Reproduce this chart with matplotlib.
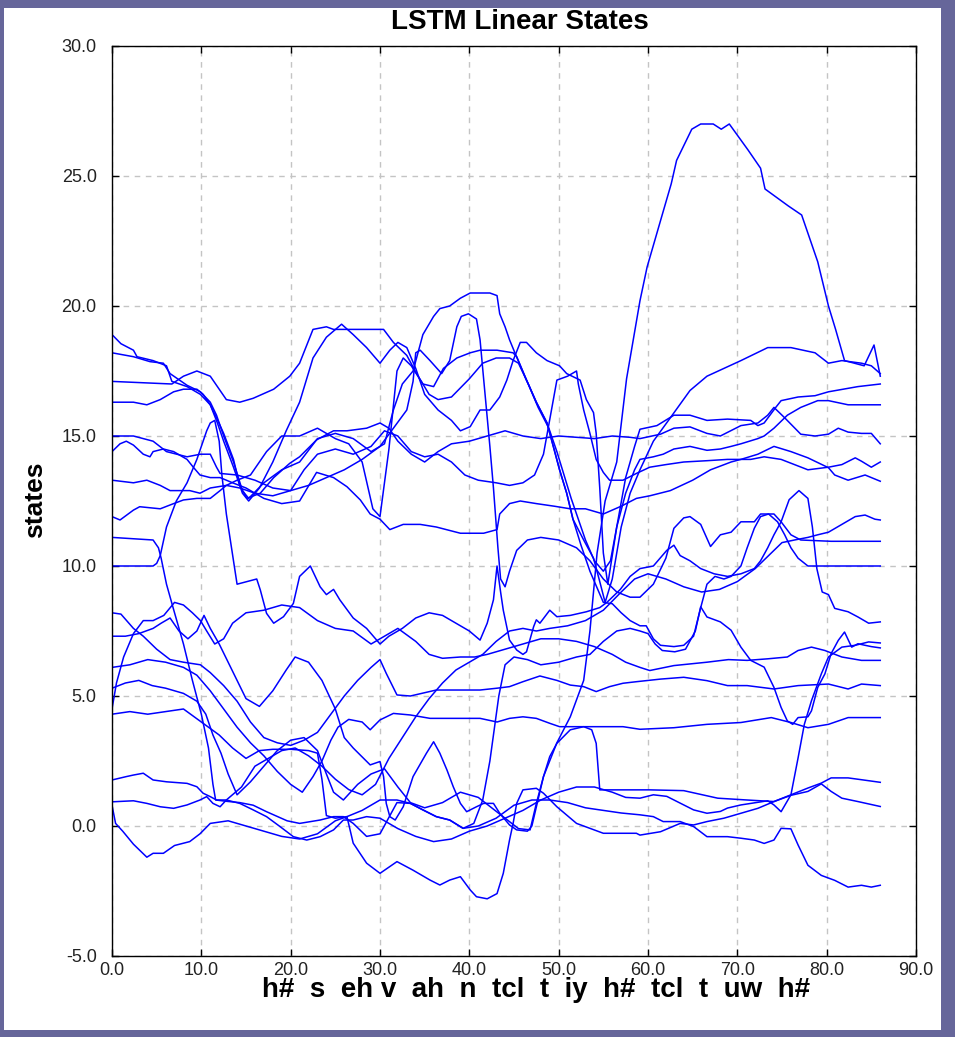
import matplotlib.pyplot as plt
from matplotlib.patches import Rectangle

# LSTM state traces, as (time step, state value)
s01 = [(0, 18.9), (1, 18.55), (2.4, 18.3), (2.8, 18.05), (4.6, 17.9), (6.1, 17.7), (6.7, 17.1), (8.4, 16.9),
       (9.9, 16.6), (11, 16.2), (11.7, 15.7), (12.5, 15.1), (13.6, 14.1), (14.3, 13.1), (15.1, 12.6), (16.6, 12.8),
       (18.1, 13.4), (19.9, 13.95), (21, 14.2), (22.9, 14.85), (24.8, 15.2), (26.3, 15.2), (28.5, 15.3), (30, 15.5),
       (31, 15.3), (32, 14.8), (33.5, 14.3), (35, 14.0), (36.5, 14.4), (38, 14.7), (40, 14.8), (42, 15.0), (44, 15.2),
       (46, 15.0), (48, 14.9), (50, 15.0), (52, 14.95), (54, 14.9), (56, 15.0), (58, 14.95), (59.1, 14.9),
       (61.4, 15.07), (62.9, 15.3), (64.7, 15.35), (66.6, 15.1), (68.1, 15.0), (70.4, 15.4), (72.3, 15.5),
       (73.4, 15.8), (74.1, 16.1), (75.3, 15.7), (77.1, 15.07), (78.7, 15.0), (80.2, 15.07), (81.3, 15.3),
       (82.4, 15.15), (83.9, 15.1), (85, 15.1), (86, 14.7)]
s02 = [(0, 18.2), (2.4, 18.05), (4.25, 17.86), (5.75, 17.8), (6.5, 17.4), (8.4, 16.95), (9.9, 16.7), (11, 16.3),
       (11.7, 15.8), (12.5, 15.0), (13.6, 14.0), (14.6, 12.9), (15.3, 12.6), (17, 13.2), (19, 13.7), (21, 14.0),
       (23, 14.9), (25, 15.1), (27, 14.9), (29, 14.4), (30.5, 14.7), (31.5, 16.0), (32.5, 17.0), (33.7, 17.5),
       (34.8, 18.9), (36, 19.6), (36.7, 19.9), (37.8, 20.0), (39, 20.3), (40.1, 20.5), (42.3, 20.5), (43.1, 20.4),
       (43.4, 19.7), (44, 19.2), (44.5, 18.7), (45.1, 18.2), (46.4, 17.15), (47.5, 16.3), (48.7, 15.5),
       (49.4, 14.6), (50.1, 13.7), (50.9, 12.8), (51.6, 11.8), (52.8, 11.0), (53.9, 10.3), (54.6, 9.4),
       (55.2, 8.6), (56, 9.5), (57, 11.5), (58, 12.8), (59.1, 13.7), (60.6, 14.8), (62.5, 15.7), (64.7, 16.75),
       (66.6, 17.3), (70.4, 17.9), (73.4, 18.4), (76, 18.4), (78.7, 18.2), (80.2, 17.8), (81.7, 17.9),
       (83.9, 17.8), (85, 17.7), (86, 17.4)]
s03 = [(0, 17.1), (6.7, 17.0), (8, 17.3), (9.5, 17.5), (11, 17.3), (12.8, 16.4), (14.3, 16.3), (15.8, 16.45),
       (18.1, 16.8), (19.9, 17.3), (21, 17.8), (22.5, 19.1), (24, 19.2), (24.8, 19.1), (30.4, 19.1), (31.5, 18.6),
       (33, 18.1), (34.1, 17.4), (35.5, 16.6), (36.5, 16.4), (38, 16.5), (40, 17.2), (41.5, 17.8), (43, 18.0),
       (44.5, 18.0), (45.5, 17.8), (46.6, 17.0), (47.7, 16.1), (48.9, 15.3), (49.8, 14.4), (50.6, 13.5),
       (51.4, 12.6), (52, 12.0), (53, 11.0), (54, 10.2), (55, 9.8), (55.8, 10.2), (56.5, 11.5), (57.5, 12.8),
       (58.5, 13.7), (59.1, 14.1), (60.6, 14.2), (61.7, 14.3), (62.9, 14.5), (64.7, 14.6), (66.6, 14.45),
       (68.1, 14.5), (69.3, 14.6), (70.4, 14.7), (72.3, 14.9), (73, 15.0), (74.1, 15.3), (75.6, 15.8),
       (77.1, 16.1), (79, 16.36), (80.2, 16.36), (82.4, 16.2), (84.7, 16.2), (86, 16.2)]
s04 = [(0, 16.3), (2.4, 16.3), (3.9, 16.2), (5.4, 16.4), (6.9, 16.7), (8, 16.8), (9.5, 16.8), (10.2, 16.6),
       (11, 16.2), (11.8, 15.5), (12.5, 14.8), (13.6, 13.8), (14.6, 12.8), (15.3, 12.5), (16.5, 13.0), (18, 14.0),
       (19.5, 15.2), (21, 16.3), (22.5, 18.0), (24, 18.8), (25.7, 19.3), (27, 18.9), (28.5, 18.4), (30, 17.8),
       (31.1, 18.3), (32, 18.6), (33, 18.4), (34, 17.6), (35, 16.6), (36.5, 16.0), (38, 15.6), (39, 15.2),
       (40.1, 15.36), (41.2, 16.0), (42.3, 16.0), (43.4, 16.5), (44.2, 17.15), (44.9, 17.9), (45.7, 18.6),
       (46.4, 18.6), (47.5, 18.2), (48.7, 17.9), (50.1, 17.7), (50.9, 17.4), (52.4, 17.15), (53.1, 16.4),
       (53.9, 15.9), (54.2, 15.1), (54.6, 13.0), (55, 10.5), (55.5, 9.3), (56.5, 11.5), (57.5, 13.4),
       (58.5, 14.6), (59.1, 15.26), (61, 15.4), (62.9, 15.8), (64.7, 15.8), (66.6, 15.6), (68.9, 15.65),
       (71.5, 15.6), (72.3, 15.4), (73, 15.5), (74.3, 16.1), (74.9, 16.36), (76.8, 16.5), (78.7, 16.55),
       (80.2, 16.7), (83.5, 16.9), (86, 17.0)]
s05 = [(0, 15.0), (2.4, 15.0), (4.6, 14.8), (6.1, 14.4), (8.4, 14.2), (9.9, 14.3), (11, 14.3), (11.7, 13.8),
       (12.1, 13.56), (14, 13.5), (16, 13.3), (18, 13.0), (20, 12.9), (22, 13.1), (24, 13.4), (26, 13.7),
       (28, 14.1), (30, 14.6), (31.5, 15.3), (33, 16.0), (33.7, 17.1), (34, 18.2), (34.5, 18.3), (35.6, 17.9),
       (36.9, 17.4), (37.8, 17.9), (38.6, 19.2), (39.1, 19.6), (39.9, 19.7), (40.8, 19.5), (41.2, 18.7),
       (41.6, 17.2), (42.3, 14.6), (42.7, 13.0), (43.2, 10.7), (43.5, 9.5), (44, 9.2), (44.5, 9.8), (45.3, 10.6),
       (46.5, 11.0), (48, 11.1), (50, 11.0), (52, 10.7), (53.5, 10.2), (55, 9.5), (56.5, 9.0), (58, 8.8),
       (59.1, 8.8), (60.6, 9.3), (62, 10.3), (62.9, 11.45), (64, 11.85), (64.7, 11.9), (65.9, 11.6), (67, 10.75),
       (68.1, 11.2), (69.3, 11.3), (70.4, 11.7), (71.9, 11.7), (72.6, 12.0), (74.1, 12.0), (74.9, 11.7),
       (76, 11.2), (77.1, 11.0), (80.5, 10.95), (86, 10.95)]
s06 = [(0, 14.4), (0.9, 14.7), (1.6, 14.8), (2.4, 14.65), (3.5, 14.3), (4.25, 14.2), (4.6, 14.4), (5.75, 14.5),
       (6.9, 14.4), (8.4, 14.1), (9.1, 13.8), (9.85, 13.5), (11, 13.4), (12.1, 13.4), (13.5, 13.2), (15, 13.0),
       (17, 12.6), (19, 12.4), (21, 12.5), (22.9, 13.6), (24.8, 13.4), (26.3, 13.05), (27.8, 12.54), (28.9, 12.0),
       (30, 11.8), (31.1, 11.4), (32.6, 11.6), (34.5, 11.6), (36.3, 11.5), (39, 11.26), (41.6, 11.26),
       (43.1, 11.4), (43.4, 12.0), (44.5, 12.4), (45.7, 12.5), (47.5, 12.4), (49.5, 12.3), (51.3, 12.2),
       (53, 12.2), (55, 12.0), (57, 12.3), (58.7, 12.6), (60.2, 12.7), (62.5, 12.9), (65, 13.3), (67, 13.7),
       (69.3, 14.0), (70.4, 14.1), (72.3, 14.3), (74.1, 14.6), (76, 14.4), (77.9, 14.16), (80.2, 13.78),
       (80.9, 13.5), (82.4, 13.3), (84.3, 13.5), (86, 13.26)]
s07 = [(0, 13.3), (2.4, 13.2), (3.9, 13.3), (5.4, 13.1), (6.5, 12.9), (8.7, 12.9), (9.85, 12.8), (11, 13.0),
       (12.8, 13.1), (14.3, 13.0), (16, 12.8), (18, 12.7), (20, 12.9), (21.5, 13.7), (23, 14.3), (25, 14.5),
       (27, 14.3), (29, 14.6), (30.5, 15.2), (32, 15.0), (33.5, 14.4), (35, 14.2), (36.5, 14.3), (38, 14.0),
       (39.5, 13.5), (41, 13.3), (43, 13.2), (44.5, 13.1), (46, 13.2), (47.3, 13.5), (48.3, 14.3), (49.8, 17.15),
       (51, 17.3), (52, 17.5), (52.2, 17.0), (52.8, 16.0), (53.5, 15.1), (54.2, 14.1), (55, 13.6), (55.7, 13.3),
       (57.2, 13.3), (58.7, 13.56), (60.2, 13.8), (62, 13.9), (64, 14.0), (66.6, 14.05), (68.9, 14.1),
       (71.5, 14.1), (73, 14.2), (74.9, 14.1), (77.9, 13.7), (80.2, 13.8), (81.7, 13.9), (83.2, 14.16),
       (83.9, 14.03), (85, 13.8), (86, 14.0)]
s08 = [(0, 11.9), (0.9, 11.77), (2.4, 12.15), (3.1, 12.28), (5.4, 12.2), (6.9, 12.4), (8, 12.54), (9.5, 12.6),
       (11, 12.6), (12.1, 12.9), (12.8, 13.1), (14, 13.3), (15.5, 13.5), (17.3, 14.4), (19, 15.0), (21, 15.0),
       (23, 15.3), (25, 14.9), (26.5, 14.7), (28, 14.0), (29.2, 12.2), (30, 11.9), (31, 14.5), (31.9, 17.5),
       (32.6, 18.0), (33.5, 17.7), (34.8, 17.0), (36, 16.9), (37.1, 17.6), (38.6, 18.0), (40.1, 18.2),
       (41.2, 18.3), (43.1, 18.3), (44.9, 18.2), (45.3, 18.05), (46.4, 17.15), (47.5, 16.3), (48.7, 15.5),
       (49.4, 14.6), (50.1, 13.7), (50.9, 12.8), (51.6, 11.8), (52.5, 10.8), (53.5, 9.8), (54.5, 9.0), (55, 8.6),
       (56, 8.55), (57, 8.2), (58, 7.9), (59.1, 7.7), (59.8, 7.7), (60.6, 7.2), (61.4, 6.95), (62.9, 6.9),
       (64, 6.95), (65.1, 7.3), (65.9, 8.4), (66.6, 9.3), (67.5, 9.6), (68.5, 9.5), (69.3, 9.6), (70.4, 10.0),
       (71.1, 10.7), (71.9, 11.45), (72.6, 11.9), (73.5, 12.0), (74.5, 11.7), (75.3, 11.2), (76, 10.7),
       (76.8, 10.3), (77.9, 10.0), (86, 10.0)]
s09 = [(0, 11.1), (4.6, 11.0), (5.2, 10.7), (5.5, 10.3), (6.1, 9.3), (7, 8.2), (8, 7.0), (9, 5.6), (10, 4.3),
       (10.8, 3.0), (11.3, 1.6), (11.6, 1.0), (12.8, 0.95), (14.3, 0.9), (15.8, 0.8), (17.3, 0.55), (19.6, 0.2),
       (21, 0.1), (23.3, 0.23), (24.8, 0.36), (25.9, 0.36), (27, 0.1), (28.5, -0.4), (30, -0.3), (31.9, 0.9),
       (33.4, 0.87), (34.8, 0.62), (36.3, 0.36), (37.8, 0.23), (39.3, -0.09), (41, 0.0), (43, 0.3), (45, 0.8),
       (47, 1.0), (49, 1.0), (51, 0.9), (53, 0.7), (55, 0.6), (57, 0.5), (59.1, 0.43), (60.6, 0.36),
       (61.7, 0.17), (63.6, 0.17), (65.1, -0.02), (66.6, -0.41), (68.9, -0.41), (70.4, -0.47), (71.9, -0.54),
       (73, -0.67), (74.1, -0.54), (74.9, -0.09), (76, -0.11), (76.8, -0.73), (77.9, -1.51), (79.4, -1.9),
       (80.9, -2.09), (82.4, -2.35), (83.9, -2.28), (85, -2.35), (86, -2.28)]
s10 = [(0, 10.0), (4.6, 10.0), (5.0, 10.1), (5.4, 10.4), (6.1, 11.5), (7.2, 12.5), (8.4, 13.2), (9.5, 14.1),
       (10.6, 15.2), (11, 15.5), (11.5, 15.6), (12, 14.8), (12.3, 13.5), (12.8, 12.0), (13.6, 10.2), (14, 9.3),
       (16.2, 9.5), (16.6, 9.08), (17.3, 8.18), (18.1, 7.8), (19.2, 8.05), (20.3, 8.56), (21, 9.6), (22.2, 10.0),
       (23.3, 9.2), (24, 8.9), (24.8, 9.1), (25.5, 8.7), (27, 8.0), (28.5, 7.6), (30, 7.0), (31, 7.3),
       (32.5, 7.6), (34, 8.0), (35.5, 8.2), (37, 8.1), (38.5, 7.8), (40, 7.5), (41.2, 7.15), (42, 7.8),
       (42.7, 8.7), (43.1, 10.0), (43.5, 9.0), (43.8, 8.3), (44.5, 7.15), (45.3, 6.77), (46, 6.6), (46.4, 6.7),
       (47.2, 7.67), (47.5, 7.93), (47.9, 7.8), (49, 8.3), (49.8, 8.05), (51.3, 8.1), (53.1, 8.24), (54.6, 8.4),
       (55.4, 8.6), (56.9, 9.1), (58, 9.6), (59.1, 9.9), (60.6, 10.0), (62.1, 10.6), (62.9, 10.8), (63.6, 10.4),
       (64.7, 10.2), (65.9, 9.9), (67.4, 9.7), (68.9, 9.6), (70.4, 9.7), (71.9, 9.9), (72.6, 10.2), (73.4, 10.7),
       (74.1, 11.2), (74.9, 11.7), (75.8, 12.55), (76.9, 12.9), (77.9, 12.6), (78.4, 11.5), (78.9, 9.9),
       (79.5, 9.0), (80.2, 8.9), (80.9, 8.37), (82.4, 8.24), (83.5, 8.04), (84.7, 7.8), (86, 7.85)]
s11 = [(0, 8.2), (1, 8.15), (2.4, 7.6), (3.5, 7.3), (5, 6.8), (6.5, 6.4), (8, 6.3), (9.9, 6.2), (11, 5.9),
       (12.5, 5.4), (14, 4.8), (15.5, 4.0), (17, 3.4), (18.5, 3.2), (20, 3.1), (21.5, 3.3), (23, 3.6),
       (24.5, 4.3), (26, 5.0), (27.5, 5.6), (29, 6.1), (30, 6.4), (30.7, 5.87), (31.9, 5.04), (33.4, 5.0),
       (36.3, 5.23), (38.6, 5.23), (41.2, 5.23), (43.1, 5.3), (44.5, 5.36), (46, 5.55), (47.9, 5.77),
       (49.8, 5.6), (51.3, 5.42), (52.8, 5.36), (54.2, 5.17), (55.7, 5.36), (57.2, 5.49), (58.7, 5.55),
       (61.4, 5.65), (64, 5.72), (66.6, 5.59), (68.9, 5.4), (71.1, 5.4), (74.1, 5.27), (76.8, 5.4),
       (80.2, 5.46), (82.4, 5.27), (83.9, 5.46), (86, 5.4)]
s12 = [(0, 7.3), (1.5, 7.3), (3, 7.4), (4.6, 7.6), (5.5, 7.8), (6.5, 8.0), (7.5, 7.5), (8.5, 7.2), (9.5, 7.5),
       (10.3, 8.1), (11, 7.6), (12, 7.0), (13, 6.3), (14, 5.6), (15, 4.9), (16.5, 4.6), (18, 5.2), (19.5, 6.0),
       (20.5, 6.5), (22, 6.3), (23.5, 5.6), (25, 4.5), (26, 3.4), (27, 3.0), (28.9, 2.35), (30, 2.48),
       (30.4, 1.9), (30.7, 0.87), (31.1, 0.36), (31.7, 0.23), (32.6, 0.74), (33.7, 1.9), (35.2, 2.8),
       (36, 3.24), (36.7, 2.8), (37.5, 2.15), (38.2, 1.51), (39, 0.87), (39.7, 0.55), (40.8, 0.74),
       (41.6, 0.87), (42.7, 0.87), (43.4, 0.49), (44.5, 0.04), (45.3, -0.15), (46.5, -0.2), (47, 0.0),
       (48.3, 1.9), (49.8, 3.2), (51.3, 4.2), (52.8, 5.6), (53.5, 7.5), (54.3, 10.5), (55.2, 12.5),
       (56.5, 14.0), (57.6, 17.2), (59.1, 20.2), (59.9, 21.5), (61.5, 23.4), (62.6, 24.7), (63.2, 25.6),
       (64.9, 26.8), (65.9, 27.0), (67.3, 27.0), (68.2, 26.8), (69.1, 27.0), (71.2, 26.0), (72.6, 25.3),
       (73.1, 24.5), (75.7, 23.85), (77.2, 23.5), (79, 21.7), (80.2, 20.0), (81, 19.1), (82, 17.9),
       (84.2, 17.7), (85.3, 18.5), (86, 17.3)]
s13 = [(0, 6.1), (2, 6.2), (4, 6.4), (6, 6.3), (8, 6.1), (9.5, 5.8), (11, 5.2), (12.5, 4.5), (14, 3.8),
       (15.5, 3.2), (17, 2.7), (18.5, 2.1), (20, 1.6), (21.3, 1.3), (22.5, 1.9), (23.5, 2.5), (24.5, 3.3),
       (25.3, 3.8), (26.5, 4.1), (28, 4.0), (28.9, 3.7), (30, 4.08), (31.5, 4.33), (33.4, 4.27), (35.6, 4.14),
       (38.6, 4.14), (41.2, 4.14), (43.1, 4.0), (44.5, 4.14), (46, 4.2), (47.5, 4.14), (49, 3.95), (50.1, 3.82),
       (52, 3.82), (54.2, 3.82), (57.2, 3.82), (59.1, 3.72), (62.9, 3.78), (66.6, 3.91), (70.4, 3.98),
       (73.8, 4.17), (76, 3.98), (77.9, 3.78), (80.2, 3.91), (82.4, 4.17), (86, 4.17)]
s14 = [(0, 5.3), (1.5, 5.5), (3, 5.6), (4.5, 5.4), (6, 5.3), (8, 5.1), (9.5, 4.8), (10.5, 4.3), (11.3, 3.5),
       (12.2, 2.8), (13, 2.0), (14, 1.2), (15.5, 1.7), (17, 2.3), (18.5, 2.9), (20, 3.3), (21.5, 3.4), (23, 2.9),
       (24, 2.0), (24.8, 1.3), (25.9, 1.0), (27.5, 1.6), (29, 2.0), (30.5, 2.2), (32, 1.5), (33.4, 0.9),
       (35, 0.7), (37, 0.9), (39, 1.3), (41, 1.1), (42.5, 0.7), (44, 0.3), (45.5, -0.1), (46.8, -0.15),
       (47.5, 0.87), (48.3, 1.9), (49, 2.67), (49.8, 3.18), (51.3, 3.7), (52.8, 3.82), (53.7, 3.7), (54.2, 3.18),
       (54.6, 1.39), (56, 1.39), (58, 1.39), (60.2, 1.39), (64, 1.36), (67.8, 1.07), (71.1, 1.0), (74.1, 0.94),
       (76, 1.18), (77.9, 1.33), (79.4, 1.62), (80.5, 1.33), (81.7, 1.07), (83.5, 0.94), (86, 0.75)]
s15 = [(0, 4.5), (0.5, 5.5), (1.3, 6.5), (2.4, 7.4), (3.5, 7.9), (4.6, 7.9), (5.8, 8.1), (7, 8.6), (8, 8.5),
       (9, 8.2), (9.9, 7.9), (10.6, 7.5), (11.5, 7.0), (12.5, 7.2), (13.5, 7.8), (15, 8.2), (17, 8.3), (19, 8.5),
       (21, 8.4), (23, 7.9), (25, 7.6), (27, 7.5), (29, 7.0), (30.5, 7.3), (32, 7.6), (34, 7.1), (35.5, 6.6),
       (37, 6.45), (39, 6.5), (40.6, 6.5), (42, 6.6), (44, 6.8), (46, 7.0), (48, 7.2), (50, 7.2), (52, 7.1),
       (54, 6.9), (56, 6.6), (57.5, 6.3), (59.1, 6.1), (60.2, 5.98), (62.9, 6.17), (66.6, 6.3), (69, 6.4),
       (71.1, 6.37), (73.4, 6.43), (75.6, 6.5), (76.8, 6.75), (78.3, 6.88), (79.8, 6.75), (81.7, 6.5),
       (83.9, 6.37), (86, 6.37)]
s16 = [(0, 4.3), (2, 4.4), (4, 4.3), (6, 4.4), (8, 4.5), (10, 4.0), (12, 3.5), (13.5, 3.0), (15, 2.6),
       (16.5, 2.9), (18, 2.95), (20, 2.95), (22, 2.9), (23, 2.8), (23.5, 1.8), (24, 0.4), (25, 0.3), (26.3, 0.36),
       (28, 0.6), (30, 1.0), (31.9, 1.0), (33.4, 0.87), (34.8, 0.62), (36.3, 0.36), (37.8, 0.23), (39.3, -0.09),
       (40.5, 0.1), (41.5, 1.0), (42.3, 2.5), (43.3, 5.0), (44, 6.2), (45, 6.5), (46.5, 6.4), (48, 6.2),
       (50, 6.3), (52, 6.5), (53.5, 6.6), (55, 7.1), (56.5, 7.5), (58, 7.6), (59.1, 7.5), (60, 7.4), (60.8, 7.0),
       (61.6, 6.75), (63, 6.7), (64.2, 6.8), (65.3, 7.5), (65.9, 8.43), (66.6, 8.04), (68.1, 7.85), (69.3, 7.53),
       (70.4, 6.88), (71.5, 6.37), (73, 6.11), (74.1, 5.33), (74.9, 4.56), (75.6, 4.04), (76.2, 3.91),
       (76.8, 4.17), (77.9, 4.2), (78.3, 4.43), (79, 5.33), (79.8, 5.85), (80.5, 6.63), (81.3, 7.14), (82, 7.46),
       (82.8, 6.88), (83.5, 7.01), (84.3, 6.95), (85, 6.9), (86, 6.85)]
s17 = [(0, 1.77), (1.6, 1.9), (2.4, 1.96), (3.5, 2.03), (4.6, 1.77), (6.1, 1.7), (8.4, 1.64), (9.5, 1.51),
       (10.2, 1.26), (11, 1.13), (11.7, 1.0), (12.8, 1.0), (14.5, 1.5), (16, 2.3), (17.5, 2.6), (19, 2.9),
       (20.5, 3.0), (22, 2.7), (23.5, 2.3), (25, 1.8), (26.5, 1.4), (28, 1.2), (29.5, 1.6), (31, 2.6), (32.5, 3.4),
       (34, 4.2), (35.5, 4.9), (37, 5.5), (38.5, 6.0), (40, 6.3), (41.5, 6.6), (43, 7.1), (44.5, 7.5), (46, 7.6),
       (47.5, 7.5), (49, 7.6), (51, 7.7), (53, 7.9), (55, 8.3), (57, 9.0), (58.5, 9.5), (60, 9.7), (62, 9.5),
       (64, 9.2), (66, 9.0), (68, 9.1), (70, 9.4), (72, 9.9), (73.5, 10.4), (75, 10.9), (76.4, 11.0),
       (77.9, 11.1), (79, 11.2), (80.2, 11.3), (81.7, 11.6), (83.2, 11.9), (84.3, 11.96), (85.4, 11.8),
       (86, 11.77)]
s18 = [(0, 0.93), (2.4, 0.97), (3.9, 0.87), (5.4, 0.74), (6.9, 0.68), (8.4, 0.81), (9.85, 1.0), (10.6, 1.13),
       (11.3, 0.87), (12.1, 0.74), (12.8, 1.0), (14.3, 0.87), (15.8, 0.62), (17.3, 0.36), (18.8, -0.02),
       (20.3, -0.41), (21.8, -0.54), (23.3, -0.41), (24.8, -0.15), (25.9, 0.23), (27, 0.23), (28.5, 0.36),
       (30, 0.3), (32, -0.1), (34, -0.4), (36, -0.6), (38, -0.5), (40, -0.2), (42, 0.0), (44, 0.3), (46, 0.6),
       (48, 1.0), (50, 1.3), (52, 1.5), (54, 1.5), (56, 1.3), (57.5, 1.1), (59.1, 1.07), (60.6, 1.2),
       (62.1, 1.14), (63.6, 0.88), (65.1, 0.62), (66.6, 0.49), (68.1, 0.56), (68.9, 0.69), (70.4, 0.81),
       (73.4, 0.97), (74.1, 0.81), (74.9, 0.55), (76, 1.2), (76.8, 2.62), (77.5, 3.91), (78.3, 4.82),
       (79.4, 5.85), (80.2, 6.5), (81.7, 6.88), (83.2, 6.95), (84.7, 7.08), (86, 7.04)]
s19 = [(0, 0.8), (0.4, 0.1), (1.2, -0.2), (2.4, -0.7), (3.9, -1.2), (4.6, -1.05), (5.75, -1.05), (7, -0.75),
       (8.7, -0.6), (9.85, -0.3), (11, 0.1), (13, 0.2), (15, 0.0), (17, -0.2), (19, -0.4), (21, -0.5), (23, -0.3),
       (25, 0.2), (26.3, 0.36), (27, -0.66), (28.5, -1.43), (30, -1.82), (31.9, -1.37), (33.7, -1.7),
       (35.6, -2.08), (36.7, -2.27), (37.8, -2.08), (39, -1.95), (40.1, -2.46), (40.8, -2.72), (42, -2.8),
       (43.1, -2.6), (43.8, -1.82), (44.5, -0.54), (44.9, 0.1), (45.3, 0.87), (46, 1.39), (47.5, 1.45),
       (48.3, 1.26), (49.8, 0.74), (52, 0.1), (55, -0.28), (58.7, -0.28), (59.1, -0.35), (61.4, -0.22),
       (63.6, 0.1), (65.1, 0.04), (66.6, 0.17), (68.5, 0.3), (70.4, 0.49), (72.3, 0.68), (74.1, 0.94),
       (76, 1.2), (77.9, 1.46), (79.4, 1.65), (80.5, 1.85), (82.4, 1.85), (83.9, 1.78), (86, 1.68)]

traces = [s01, s02, s03, s04, s05, s06, s07, s08, s09, s10,
          s11, s12, s13, s14, s15, s16, s17, s18, s19]

xticks = [0, 10, 20, 30, 40, 50, 60, 70, 80, 90]
yticks = [-5, 0, 5, 10, 15, 20, 25, 30]
phones = "h#  s  eh v  ah  n  tcl  t  iy  h#  tcl  t  uw  h#"

plt.rcParams['font.family'] = ['Liberation Sans', 'DejaVu Sans']

W, H = 955, 1037
fig = plt.figure(figsize=(W / 100, H / 100), dpi=100, facecolor='#66669a')
# white panel inside the purple frame
fig.patches.append(Rectangle((4 / W, 7 / H), (941 - 4) / W, (1029 - 7) / H,
                             transform=fig.transFigure, facecolor='white',
                             edgecolor='none', zorder=-10))

ax = fig.add_axes([112 / W, 81 / H, 804 / W, 910 / H])
ax.set_zorder(1)
for s in traces:
    x, y = zip(*s)
    ax.plot(x, y, color='#0000ff', lw=1.1)

ax.set_xlim(0, 90)
ax.set_ylim(-5, 30)
ax.set_xticks(xticks)
ax.set_xticklabels([f'{v:.1f}' for v in xticks])
ax.set_yticks(yticks)
ax.set_yticklabels([f'{v:.1f}' for v in yticks])
ax.tick_params(direction='in', top=True, right=True, length=5, width=1,
               labelsize=13, labelcolor='#222222')
ax.tick_params(axis='y', pad=11)
ax.tick_params(axis='x', pad=4)
ax.grid(True, color='#c4c4c4', linestyle=(0, (4, 4)), lw=1)
for sp in ax.spines.values():
    sp.set_linewidth(1)

fig.text(520 / W, 1 - 22 / H, 'LSTM Linear States', ha='center', va='center',
         fontsize=20, fontweight='bold')
fig.text(536 / W, 1 - 990 / H, phones, ha='center', va='center',
         fontsize=20, fontweight='bold')
fig.text(35 / W, 1 - 500 / H, 'states', rotation=90, ha='center', va='center',
         fontsize=19, fontweight='bold')

fig.savefig('out.png', dpi=100, facecolor=fig.get_facecolor())
